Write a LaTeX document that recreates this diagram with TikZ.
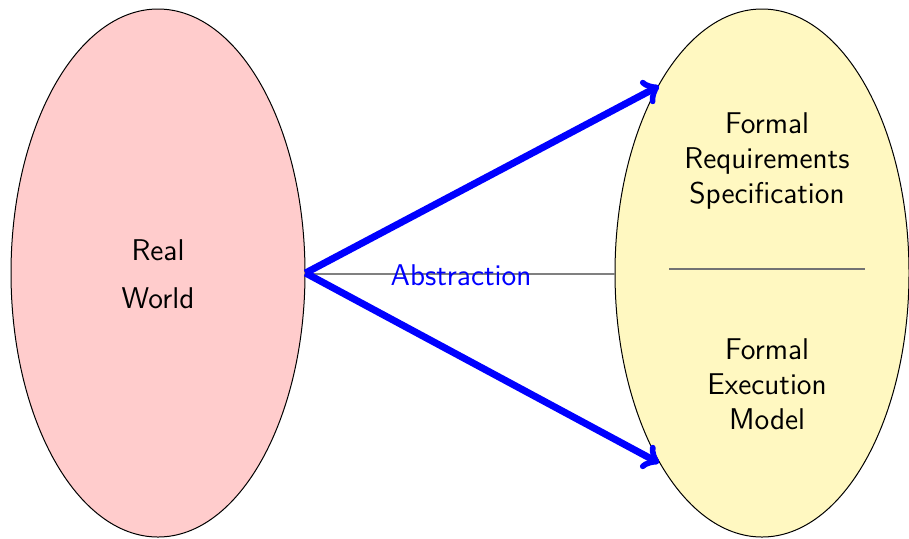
\documentclass[tikz,border=0pt]{standalone}
\usetikzlibrary{shapes.geometric,arrows}
\definecolor{pinkfill}{RGB}{255,204,204}
\definecolor{yellowfill}{RGB}{255,248,193}
\begin{document}
\begin{tikzpicture}[x=0.5pt,y=-0.5pt,
  blob/.style={ellipse,draw=black,line width=0.5pt,inner sep=0pt,minimum width=147pt,minimum height=264pt},
  lbl/.style={font=\sffamily\fontsize{15}{17.5}\selectfont,align=center,inner sep=0pt},
  bigarrow/.style={draw=blue,line width=3.5pt,-to}]
\useasboundingbox (0,0) rectangle (909,538);
\node[blob,fill=pinkfill] (rw) at (158,273) {};
\node[blob,fill=yellowfill] (fm) at (762,273) {};
\node[lbl] (real) at (158,250) {Real};
\node[lbl] (world) at (158,298) {World};
\node[lbl] (req) at (767,161) {Formal\\Requirements\\Specification};
\node[lbl] (exe) at (767,384) {Formal\\Execution\\Model};
\coordinate (sepL) at (669,269);
\coordinate (sepR) at (865,269);
\draw[black!55,line width=0.75pt] (sepL) -- (sepR);
\coordinate (gl) at (305,274);
\coordinate (gr) at (615,274);
\draw[gray,line width=0.75pt] (gl) -- (gr);
\node[lbl,text=blue] (abs) at (461,275) {Abstraction};
\coordinate (top) at (659,86);
\coordinate (bot) at (659,463);
\draw[bigarrow] (rw.east) -- (top);
\draw[bigarrow] (rw.east) -- (bot);
\end{tikzpicture}
\end{document}
